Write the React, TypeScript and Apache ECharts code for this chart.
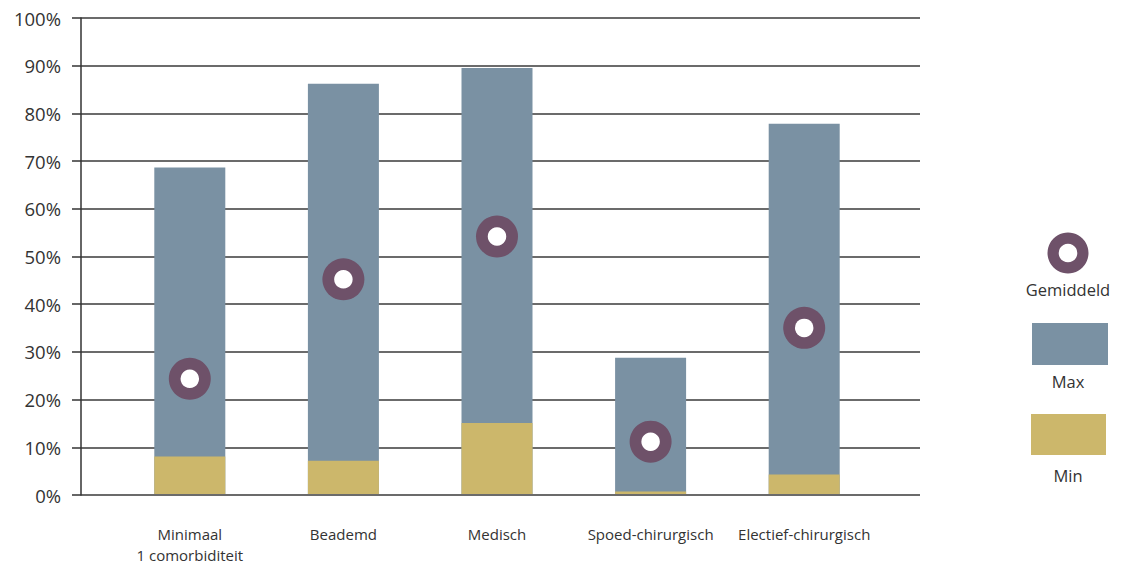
import React, { useEffect, useRef } from "react";
import * as echarts from "echarts";

// Categories and values (percent)
const categories = [
  "Minimaal\n1 comorbiditeit",
  "Beademd",
  "Medisch",
  "Spoed-chirurgisch",
  "Electief-chirurgisch",
];
const minValues = [7.9, 7.0, 14.9, 0.5, 4.1];
const maxValues = [68.6, 86.2, 89.5, 28.6, 77.8];
const avgValues = [24.2, 45.1, 54.1, 11.0, 34.9];
const yTicks = [0, 10, 20, 30, 40, 50, 60, 70, 80, 90, 100];

const FONT = "'Open Sans', 'Noto Sans', sans-serif";
const TEXT = "#333333";
const C_MAX = "#7a91a3";
const C_MIN = "#ccb76b";
const C_AVG = "#6e5169";

export default function App() {
  const ref = useRef<HTMLDivElement>(null);

  useEffect(() => {
    if (!ref.current) return;
    const chart = echarts.init(ref.current, null, { renderer: "svg" });

    const legendText = (text: string, y: number) => ({
      type: "text",
      x: 1068,
      y,
      style: {
        text,
        fill: TEXT,
        font: `16.5px ${FONT}`,
        textAlign: "center",
        textVerticalAlign: "middle",
      },
    });

    const option = {
      animation: false,
      backgroundColor: "#ffffff",
      textStyle: { fontFamily: FONT },
      grid: [
        { left: 81, right: 201, top: 18, bottom: 70 },
        { left: 113, right: 240, top: 18, bottom: 70 },
      ],
      xAxis: [
        {
          type: "category",
          gridIndex: 0,
          data: categories,
          show: false,
        },
        {
          type: "category",
          gridIndex: 1,
          data: categories,
          axisLine: { show: false },
          axisTick: { show: false },
          axisLabel: {
            color: TEXT,
            fontSize: 15,
            fontFamily: FONT,
            margin: 29,
            lineHeight: 21,
            interval: 0,
          },
        },
      ],
      yAxis: [
        {
          type: "value",
          gridIndex: 0,
          min: yTicks[0],
          max: yTicks[yTicks.length - 1],
          interval: 10,
          axisLine: { show: true, lineStyle: { color: "#333333", width: 1.5 } },
          axisTick: {
            show: true,
            inside: false,
            length: 9,
            lineStyle: { color: "#333333", width: 1.5 },
          },
          splitLine: { show: true, lineStyle: { color: "#3a3a3a", width: 1.5 } },
          axisLabel: {
            color: TEXT,
            fontSize: 18.5,
            fontFamily: FONT,
            margin: 20,
            formatter: (v: number) => `${v}%`,
          },
        },
        {
          type: "value",
          gridIndex: 1,
          min: 0,
          max: 100,
          show: false,
        },
      ],
      series: [
        {
          name: "Max",
          type: "bar",
          xAxisIndex: 1,
          yAxisIndex: 1,
          data: maxValues,
          barWidth: 71,
          itemStyle: { color: C_MAX },
          z: 2,
        },
        {
          name: "Min",
          type: "bar",
          xAxisIndex: 1,
          yAxisIndex: 1,
          data: minValues,
          barWidth: 71,
          barGap: "-100%",
          itemStyle: { color: C_MIN },
          z: 3,
        },
        // Average marker: a purple disc with a white centre on top
        {
          name: "Gemiddeld",
          type: "scatter",
          xAxisIndex: 1,
          yAxisIndex: 1,
          data: avgValues,
          symbol: "circle",
          symbolSize: 42,
          itemStyle: { color: C_AVG, opacity: 1 },
          z: 5,
        },
        {
          name: "Gemiddeld-kern",
          type: "scatter",
          xAxisIndex: 1,
          yAxisIndex: 1,
          data: avgValues,
          symbol: "circle",
          symbolSize: 18.5,
          itemStyle: { color: "#ffffff", opacity: 1 },
          z: 6,
        },
      ],
      graphic: [
        {
          type: "ring",
          shape: { cx: 1068, cy: 253, r: 20.5, r0: 9.3 },
          style: { fill: C_AVG },
        },
        legendText("Gemiddeld", 289),
        {
          type: "rect",
          shape: { x: 1032, y: 323, width: 76, height: 42 },
          style: { fill: C_MAX },
        },
        legendText("Max", 381),
        {
          type: "rect",
          shape: { x: 1031, y: 414, width: 75, height: 41 },
          style: { fill: C_MIN },
        },
        legendText("Min", 475),
      ],
    };

    chart.setOption(option);
    return () => chart.dispose();
  }, []);

  return (
    <div
      ref={ref}
      style={{ width: 1121, height: 565, position: "absolute", left: 0, top: 0 }}
    />
  );
}
